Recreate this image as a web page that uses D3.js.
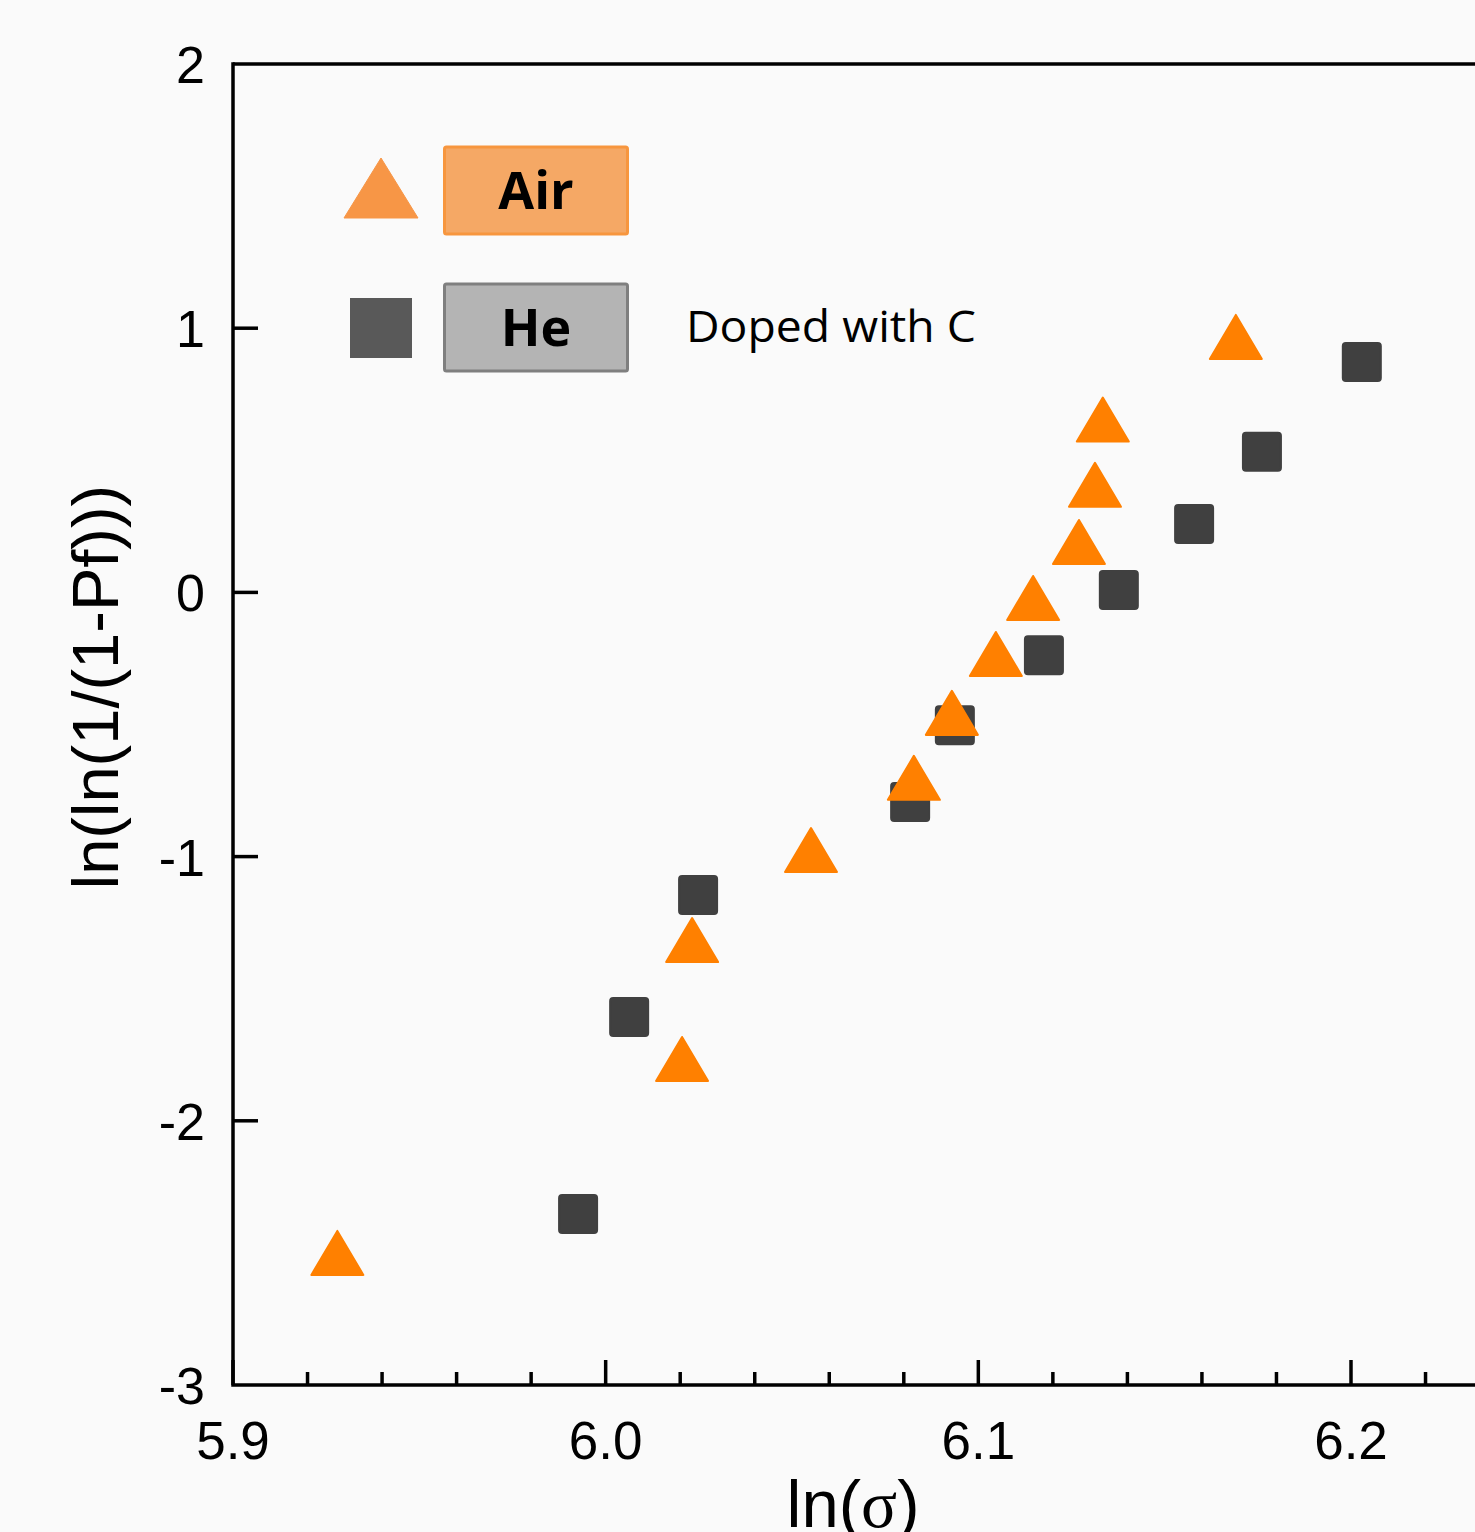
<!DOCTYPE html>
<html><head><meta charset="utf-8">
<script src="https://cdn.jsdelivr.net/npm/d3@7"></script>
<style>body{margin:0;background:#fafafa;}svg{display:block;}</style>
</head><body>
<svg id="c" width="1475" height="1532"></svg>
<script>
const airX = [5.928, 6.0205, 6.0232, 6.0551, 6.0827, 6.0929, 6.1047, 6.1147, 6.127, 6.1313, 6.1334, 6.1691];
const airY = [-2.50, -1.766, -1.316, -0.975, -0.702, -0.456, -0.233, -0.021, 0.191, 0.407, 0.654, 0.967];
const heX = [5.9926, 6.0063, 6.0248, 6.0817, 6.0937, 6.1176, 6.1377, 6.1579, 6.1761, 6.2029];
const heY = [-2.353, -1.607, -1.145, -0.793, -0.503, -0.238, 0.009, 0.259, 0.532, 0.872];
const xTicks = [5.9, 6.0, 6.1, 6.2];
const xMinor = [5.92, 5.94, 5.96, 5.98, 6.02, 6.04, 6.06, 6.08, 6.12, 6.14, 6.16, 6.18, 6.22, 6.24];
const yTicks = [-3, -2, -1, 0, 1, 2];
const legendLabels = ["Air", "He"];
const note = "Doped with C";

const svg = d3.select("#c");
const L = 233, T = 64, B = 1385;
const x = d3.scaleLinear().domain([5.9, 6.2]).range([L, 1351]);
const y = d3.scaleLinear().domain([-3, 2]).range([B, T]);
const xMax = 6.26;

// data markers
const g = svg.append("g");
const sq = 38;
g.selectAll("rect.he").data(heX.map((v,i)=>[v,heY[i]])).enter().append("rect")
  .attr("x", d=>x(d[0])-sq/2).attr("y", d=>y(d[1])-sq/2)
  .attr("width", sq).attr("height", sq).attr("rx", 3)
  .attr("fill", "#404040").attr("stroke","#404040").attr("stroke-width",2);
const tw = 52, th = 44;
g.selectAll("path.air").data(airX.map((v,i)=>[v,airY[i]])).enter().append("path")
  .attr("d", d=>{const cx=x(d[0]), cy=y(d[1]);
    return `M${cx},${cy-th/2}L${cx+tw/2},${cy+th/2}L${cx-tw/2},${cy+th/2}Z`;})
  .attr("fill", "#ff8000").attr("stroke","#ff8000").attr("stroke-width",2).attr("stroke-linejoin","round");

// axes frame
const ax = svg.append("g").attr("stroke","#000").attr("stroke-width",3.5).attr("fill","none");
ax.append("path").attr("d", `M${L},${T}V${B}H${x(xMax)}`).attr("stroke-linecap","square");
ax.append("path").attr("d", `M${L},${T}H${x(xMax)}`);
xTicks.forEach(v=>{ ax.append("line").attr("x1",x(v)).attr("x2",x(v)).attr("y1",B).attr("y2",B-25); });
xMinor.forEach(v=>{ ax.append("line").attr("x1",x(v)).attr("x2",x(v)).attr("y1",B).attr("y2",B-13); });
yTicks.forEach(v=>{ if(v>-3 && v<2) ax.append("line").attr("x1",L).attr("x2",L+25).attr("y1",y(v)).attr("y2",y(v)); });

// tick labels
const tf = "Liberation Sans, Arial, sans-serif";
svg.append("g").selectAll("text").data(xTicks).enter().append("text")
  .attr("x", d=>x(d)).attr("y", B+74).attr("text-anchor","middle")
  .attr("font-family", tf).attr("font-size", 53).attr("fill","#000")
  .text(d=>d3.format(".1f")(d));
svg.append("g").selectAll("text").data(yTicks).enter().append("text")
  .attr("x", 205).attr("y", d=>y(d)+19).attr("text-anchor","end")
  .attr("font-family", tf).attr("font-size", 52).attr("fill","#000")
  .text(d=>d);

// axis titles
svg.append("text").attr("transform","translate(118,687) rotate(-90)").attr("text-anchor","middle")
  .attr("font-family", tf).attr("font-size", 65).attr("fill","#000").text("ln(ln(1/(1-Pf)))");
const xt = svg.append("text").attr("x", 853).attr("y", 1527).attr("text-anchor","middle")
  .attr("font-family", tf).attr("font-size", 67).attr("fill","#000");
xt.append("tspan").text("ln(");
xt.append("tspan").attr("font-family","Liberation Serif, serif").text("σ");
xt.append("tspan").text(")");

// legend
const lg = svg.append("g");
lg.append("path").attr("d","M381,158L418,218L344,218Z").attr("fill","#f79646").attr("stroke","#f79646").attr("stroke-width",1);
lg.append("rect").attr("x",350).attr("y",298).attr("width",62).attr("height",60).attr("fill","#595959");
const boxes = [{y:147, fill:"#f5a865", stroke:"#f7963e"},{y:284, fill:"#b4b4b4", stroke:"#7f7f7f"}];
boxes.forEach((b,i)=>{
  lg.append("rect").attr("x",444.5).attr("y",b.y).attr("width",183).attr("height",87).attr("rx",2)
    .attr("fill",b.fill).attr("stroke",b.stroke).attr("stroke-width",3);
  lg.append("text").attr("x",536).attr("y",b.y+62).attr("text-anchor","middle")
    .attr("font-family","Open Sans, Lato, sans-serif").attr("font-weight",700).attr("font-size",52)
    .attr("fill","#000").text(legendLabels[i]);
});
lg.append("text").attr("x",686).attr("y",342).attr("font-family","Open Sans, sans-serif")
  .attr("font-size",44).attr("fill","#000").attr("textLength",290).attr("lengthAdjust","spacingAndGlyphs").text(note);
</script>
</body></html>
